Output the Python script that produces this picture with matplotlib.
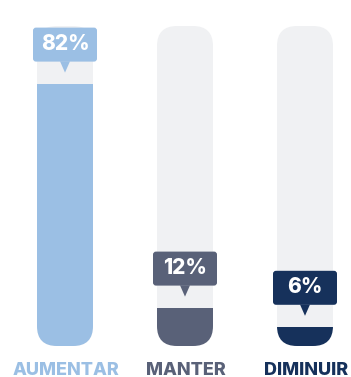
import matplotlib.pyplot as plt
from matplotlib.patches import FancyBboxPatch, Rectangle, Polygon

categories = ["AUMENTAR", "MANTER", "DIMINUIR"]
values = [82, 12, 6]
colors = ["#9bbfe4", "#596178", "#16315b"]
track_color = "#f0f1f3"

plt.rcParams['font.family'] = ['Inter', 'DejaVu Sans']

# pixel scale: 120 px between bars, 3.2 px per percent
px_x = 120.0
px_y = 3.2
aspect = px_x / px_y

fig = plt.figure(figsize=(3.51, 3.77), dpi=100)
ax = fig.add_axes([0, 0, 1, 1])
ax.set_xlim(-65 / px_x, 2 + 46 / px_x)
ax.set_ylim(-31 / px_y, 100 + 26 / px_y)
ax.axis("off")

bar_w = 56 / px_x
radius = 20 / px_x

for i, (cat, val, col) in enumerate(zip(categories, values, colors)):
    x0 = i - bar_w / 2
    track = FancyBboxPatch((x0, 0), bar_w, 100,
                           boxstyle="round,pad=0,rounding_size=%f" % radius,
                           mutation_aspect=aspect, fc=track_color, ec="none", zorder=1)
    ax.add_patch(track)

    fill = FancyBboxPatch((x0, 0), bar_w, 100,
                          boxstyle="round,pad=0,rounding_size=%f" % radius,
                          mutation_aspect=aspect, fc=col, ec="none", zorder=2)
    ax.add_patch(fill)
    clip = Rectangle((x0 - 0.1, -5), bar_w + 0.2, val + 5, transform=ax.transData)
    fill.set_clip_path(clip)

    # value callout above the fill
    box_w = 64 / px_x
    box_h = 34 / px_y
    box_bottom = val + 22 / px_y
    box = FancyBboxPatch((i - box_w / 2, box_bottom), box_w, box_h,
                         boxstyle="round,pad=0,rounding_size=%f" % (3 / px_x),
                         mutation_aspect=aspect, fc=col, ec="none", zorder=3)
    ax.add_patch(box)
    tri_w = 5 / px_x
    tip = Polygon([(i - tri_w, box_bottom + 0.1), (i + tri_w, box_bottom + 0.1),
                   (i, val + 11 / px_y)], closed=True, fc=col, ec="none", zorder=3)
    ax.add_patch(tip)
    ax.text(i, box_bottom + box_h / 2 + 1 / px_y, "%d%%" % val, color="white",
            fontsize=15, fontweight=800, ha="center", va="center", zorder=4)

    ax.text(i + 1 / px_x, -29 / px_y, cat, color=col, fontsize=13, fontweight=800,
            ha="center", va="baseline")

fig.savefig("out.png", dpi=100)
